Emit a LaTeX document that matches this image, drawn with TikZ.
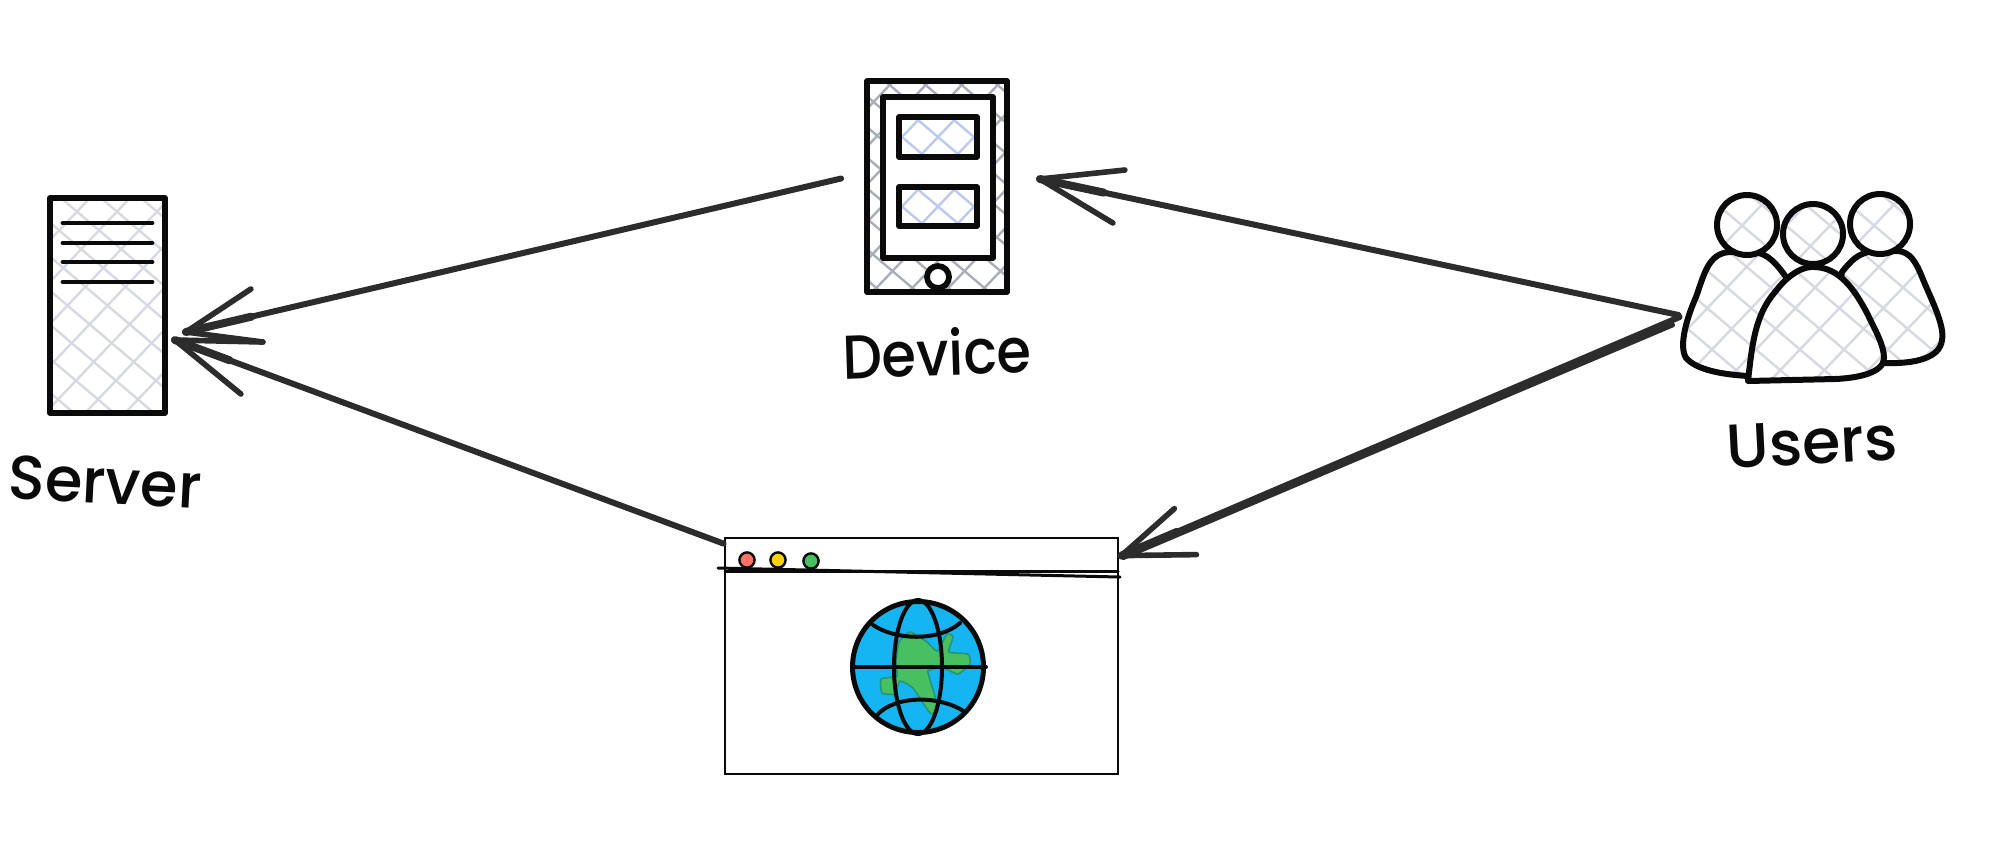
\documentclass[tikz,border=0pt]{standalone}
\usetikzlibrary{calc}
\usepackage{fontspec}
\setmainfont{Poppins}[UprightFont=* Medium]
\definecolor{ink}{HTML}{0A0A0A}
\definecolor{arrowink}{HTML}{2C2C2C}
\definecolor{hatchgrey}{HTML}{D6DAE0}
\definecolor{hatchdark}{HTML}{A9AEB6}
\definecolor{hatchblue}{HTML}{BCC9F0}
\definecolor{globeblue}{HTML}{14B5F0}
\definecolor{landgreen}{HTML}{46C060}
\newcommand{\hatchfield}[6]{%
  \foreach \k in {-14,...,14}{%
    \draw[#6,line width=1.2pt] ({(#1+#3)/2+\k*#5-(#4-#2)/2/0.85},#2) -- ({(#1+#3)/2+\k*#5+(#4-#2)/2/0.85},#4);
    \draw[#6,line width=1.2pt] ({(#1+#3)/2+\k*#5+(#4-#2)/2/1.05},#2) -- ({(#1+#3)/2+\k*#5-(#4-#2)/2/1.05},#4);
  }}
\tikzset{
  iconbox/.style={draw=ink,line width=2.9pt,inner sep=0pt,line join=round},
  thinbox/.style={draw=ink,line width=1.4pt,inner sep=0pt},
  rule/.style={draw=ink,line width=2.4pt,line cap=round},
  figure/.style={draw=ink,line width=3pt,line join=round},
  bar/.style={draw=ink,line width=1.5pt,line cap=round},
  arrowstroke/.style={draw=arrowink,line width=3pt,line cap=round,line join=round},
  arrowroot/.style={draw=arrowink,line width=4pt,line cap=round},
  barb/.style={draw=arrowink,line width=2.8pt,line cap=round},
  handlabel/.style={text=ink,font=\fontsize{31}{34}\selectfont,inner sep=0pt},
  dot/.style={circle,draw=ink,line width=1.2pt,inner sep=0pt,minimum size=7.6pt},
  meridian/.style={draw=ink,line width=2pt,line cap=round}
}
\begin{document}
\begin{tikzpicture}[x=0.5pt,y=-0.5pt]
\useasboundingbox (0,0) rectangle (2000,853);
% ---------- Server
\begin{scope}
  \clip (50,198) rectangle (165,413);
  \hatchfield{50}{198}{165}{413}{40}{hatchgrey}
\end{scope}
\node[iconbox,minimum width=57.5pt,minimum height=107.5pt] (server) at (107.5,305.5) {};
\foreach \yy in {223,243,262,282}{
  \draw[rule] (63,\yy) -- (152,\yy);
}
\node[handlabel,xscale=0.98,rotate=-3] (serverlabel) at (105,482) {Server};
% ---------- Device
\begin{scope}
  \clip (867,81) rectangle (1007,292);
  \hatchfield{867}{81}{1007}{292}{36}{hatchdark}
\end{scope}
\node[iconbox,minimum width=70pt,minimum height=105.5pt] (device) at (937,186.5) {};
\node[iconbox,fill=white,minimum width=55pt,minimum height=80.5pt] (devicescreen) at (938,177.5) {};
\begin{scope}
  \clip (899,117) rectangle (977,157);
  \hatchfield{899}{117}{977}{157}{36}{hatchblue}
\end{scope}
\begin{scope}
  \clip (899,187) rectangle (977,226);
  \hatchfield{899}{187}{977}{226}{36}{hatchblue}
\end{scope}
\node[iconbox,minimum width=39pt,minimum height=20pt] (tileA) at (938,137) {};
\node[iconbox,minimum width=39pt,minimum height=19.5pt] (tileB) at (938,206.5) {};
\node[iconbox,circle,fill=white,minimum size=11pt] (devicebutton) at (938,277) {};
\node[handlabel,xscale=0.9,rotate=2] (devicelabel) at (937,352) {Device};
% ---------- Users
\node[inner sep=0pt,minimum width=128.5pt,minimum height=94pt] (users) at (1813.5,287) {};
\def\leftbody{(1748,376) .. controls (1715,374) and (1695,368) .. (1686,358) .. controls (1678,345) and (1688,315) .. (1696,297) .. controls (1704,275) and (1708,253) .. (1730,252) -- (1752,252) .. controls (1768,252) and (1778,266) .. (1786,277) -- (1790,330) -- cycle}
\def\rightbody{(1842,272) .. controls (1850,262) and (1858,252) .. (1875,251) -- (1898,251) .. controls (1910,252) and (1916,262) .. (1922,277) .. controls (1930,297) and (1945,325) .. (1942,340) .. controls (1940,358) and (1915,364) .. (1885,363) -- (1830,330) -- cycle}
\def\midbody{(1748,381) .. controls (1752,345) and (1755,315) .. (1775,292) .. controls (1790,272) and (1805,266) .. (1815,267) .. controls (1840,268) and (1855,290) .. (1868,315) .. controls (1875,330) and (1884,345) .. (1884,358) .. controls (1884,372) and (1860,378) .. (1835,379) -- cycle}
\foreach \shp in {\leftbody,\rightbody,\midbody}{
  \fill[white] \shp;
  \begin{scope}
    \clip \shp;
    \hatchfield{1680}{190}{1950}{385}{44}{hatchgrey}
  \end{scope}
  \draw[figure] \shp;
}
\foreach \cx/\cy in {1747/225,1880/224,1813/234}{
  \fill[white] (\cx,\cy) circle[radius=30];
  \begin{scope}
    \clip (\cx,\cy) circle[radius=30];
    \hatchfield{1680}{190}{1950}{385}{44}{hatchgrey}
  \end{scope}
  \draw[figure] (\cx,\cy) circle[radius=30];
}
\node[handlabel,xscale=1.0,rotate=3] (userslabel) at (1812,443) {Users};
% ---------- Browser
\node[thinbox,minimum width=196.5pt,minimum height=118pt] (browser) at (921.5,656) {};
\draw[bar] (718,568) -- (1120,577);
\draw[bar] (725,571) -- (1118,571);
\node[dot,fill=red!55!white!90!orange] (dotred) at (747,560) {};
\node[dot,fill=yellow!70!orange] (dotyellow) at (778,560) {};
\node[dot,fill=landgreen] (dotgreen) at (811,561) {};
% ---------- Globe
\node[circle,draw=ink,fill=globeblue,line width=2pt,inner sep=0pt,minimum size=65pt] (globe) at (918,667) {};
\fill[landgreen,draw=landgreen!70!black!70!globeblue,line width=0.8pt] plot[smooth cycle,tension=0.3] coordinates {(899,642)(910,632)(927,642)(937,651)(947,634)(953,637)(949,652)(968,654)(970,664)(958,674)(943,668)(928,671)(934,693)(938,711)(930,713)(913,688)(900,681)(895,694)(882,693)(881,679)(897,676)(896,663)};
\draw[meridian] (918,667) ellipse[x radius=24,y radius=67];
\draw[meridian] (852,667) -- (986,667);
\draw[meridian] (873,625) .. controls (895,640) and (938,642) .. (960,623);
\draw[meridian] (877,715) .. controls (895,695) and (940,695) .. (965,712);
\draw[ink,line width=2pt] (918,667) circle[radius=66];
% ---------- Connectors
\coordinate (tipserverA) at ([shift={(18,26.5)}]server.east);
\coordinate (tipserverB) at ([shift={(7,34.5)}]server.east);
\coordinate (tipdevice) at ([shift={(30,-7.5)}]device.east);
\coordinate (tipbrowser) at ([shift={(2,19)}]browser.north east);
\coordinate (fromdevice) at ([shift={(-23,-8)}]device.west);
\coordinate (frombrowser) at ([shift={(0,7)}]browser.north west);
\coordinate (fromusersA) at ([shift={(-6,28)}]users.west);
\coordinate (fromusersB) at ([shift={(-5,30)}]users.west);
\coordinate (fromusersC) at ([shift={(-12,38)}]users.west);
\draw[arrowstroke] (fromdevice) -- (tipserverA);
\draw[arrowroot] (tipserverA) -- ($(tipserverA)!0.1!(fromdevice)$);
\draw[barb] (tipserverA) -- ++(65,-43);
\draw[barb] (tipserverA) -- ++(77,10);
\draw[arrowstroke] (frombrowser) -- (tipserverB);
\draw[arrowroot] (tipserverB) -- ($(tipserverB)!0.1!(frombrowser)$);
\draw[barb] (tipserverB) -- ++(88,2);
\draw[barb] (tipserverB) -- ++(66,54);
\draw[arrowstroke] (fromusersA) -- (tipdevice);
\draw[arrowroot] (tipdevice) -- ($(tipdevice)!0.1!(fromusersA)$);
\draw[barb] (tipdevice) -- ++(85,-9);
\draw[barb] (tipdevice) -- ++(73,44);
\draw[arrowstroke] (fromusersB) -- (tipbrowser);
\draw[arrowstroke,line width=2.4pt] (fromusersC) -- ([shift={(2,2)}]tipbrowser);
\draw[arrowroot] (tipbrowser) -- ($(tipbrowser)!0.1!(fromusersB)$);
\draw[barb] (tipbrowser) -- ++(53,-47);
\draw[barb] (tipbrowser) -- ++(75,-1);
\end{tikzpicture}
\end{document}
